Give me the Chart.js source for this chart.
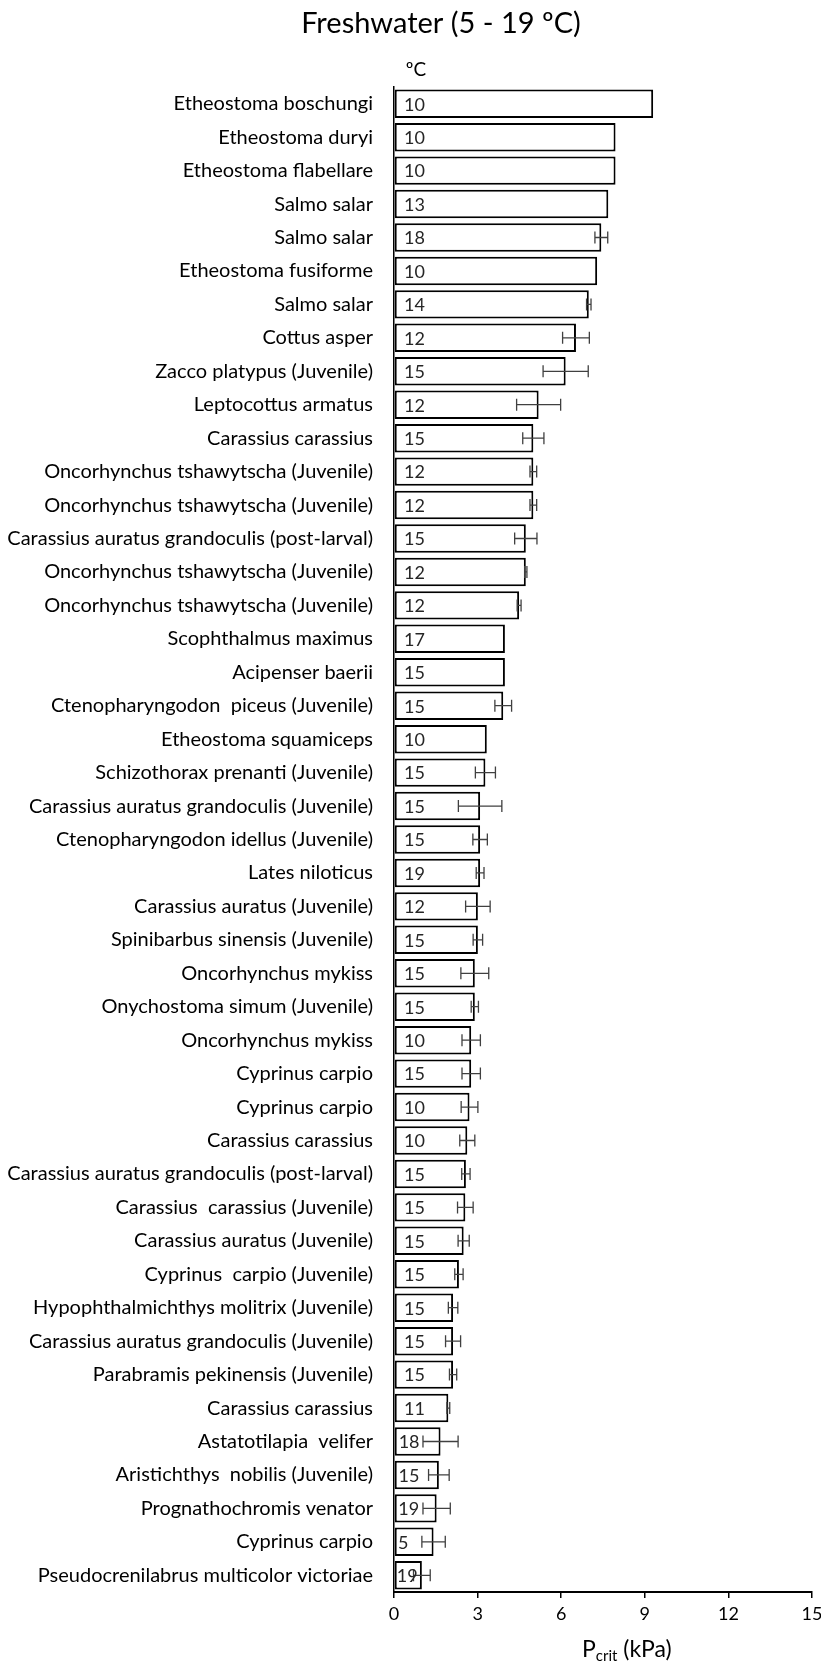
<!DOCTYPE html>
<html><head><meta charset="utf-8">
<script src="https://cdn.jsdelivr.net/npm/chart.js@4"></script>
<style>html,body{margin:0;padding:0;background:#fff}#wrap{width:821px;height:1666px;position:relative}</style>
</head><body><div id="wrap"><canvas id="c" width="821" height="1666"></canvas></div>
<script>
const chartTitle = 'Freshwater (5 - 19 ºC)';
const tempHeader = 'ºC';
const categories = [
  'Etheostoma boschungi','Etheostoma duryi','Etheostoma flabellare','Salmo salar','Salmo salar',
  'Etheostoma fusiforme','Salmo salar','Cottus asper','Zacco platypus (Juvenile)','Leptocottus armatus',
  'Carassius carassius','Oncorhynchus tshawytscha (Juvenile)','Oncorhynchus tshawytscha (Juvenile)',
  'Carassius auratus grandoculis (post-larval)','Oncorhynchus tshawytscha (Juvenile)','Oncorhynchus tshawytscha (Juvenile)',
  'Scophthalmus maximus','Acipenser baerii','Ctenopharyngodon  piceus (Juvenile)','Etheostoma squamiceps',
  'Schizothorax prenanti (Juvenile)','Carassius auratus grandoculis (Juvenile)','Ctenopharyngodon idellus (Juvenile)',
  'Lates niloticus','Carassius auratus (Juvenile)','Spinibarbus sinensis (Juvenile)','Oncorhynchus mykiss',
  'Onychostoma simum (Juvenile)','Oncorhynchus mykiss','Cyprinus carpio','Cyprinus carpio','Carassius carassius',
  'Carassius auratus grandoculis (post-larval)','Carassius  carassius (Juvenile)','Carassius auratus (Juvenile)',
  'Cyprinus  carpio (Juvenile)','Hypophthalmichthys molitrix (Juvenile)','Carassius auratus grandoculis (Juvenile)',
  'Parabramis pekinensis (Juvenile)','Carassius carassius','Astatotilapia  velifer','Aristichthys  nobilis (Juvenile)',
  'Prognathochromis venator','Cyprinus carpio','Pseudocrenilabrus multicolor victoriae'
];
const temps = [10,10,10,13,18,10,14,12,15,12,15,12,12,15,12,12,17,15,15,10,15,15,15,19,12,15,15,15,10,15,10,10,15,15,15,15,15,15,15,11,18,15,19,5,19];
const pcrit = [9.30,7.95,7.95,7.69,7.44,7.29,6.99,6.53,6.16,5.19,5.00,5.00,5.00,4.73,4.73,4.49,3.98,3.98,3.92,3.33,
  3.28,3.09,3.09,3.09,3.01,3.01,2.90,2.90,2.77,2.77,2.71,2.63,2.58,2.56,2.50,2.33,2.12,2.12,2.12,1.95,1.67,1.61,1.53,1.42,1.00];
const pcritErr = [0,0,0,0,0.23,0,0.08,0.48,0.81,0.79,0.38,0.12,0.12,0.40,0.04,0.07,0,0,0.30,0,
  0.36,0.78,0.26,0.14,0.44,0.17,0.50,0.13,0.33,0.33,0.30,0.27,0.15,0.28,0.20,0.15,0.17,0.27,0.13,0.05,0.63,0.37,0.49,0.42,0.30];
const xMin = 0, xMax = 15, xStep = 3;
const xTitleMain = 'P', xTitleSub = 'crit', xTitleRest = ' (kPa)';

const FONT = 'Lato, "Open Sans", sans-serif';

const titlePlugin = {
  id: 'titles',
  afterDraw(chart) {
    const ctx = chart.ctx;
    ctx.save();
    ctx.fillStyle = '#000';
    ctx.textBaseline = 'middle';
    ctx.textAlign = 'center';
    ctx.font = '29px ' + FONT;
    ctx.fillText(chartTitle, 441, 24);
    ctx.font = '19px ' + FONT;
    ctx.fillText(tempHeader, 416, 70);
    const big = '23px ' + FONT, small = '15px ' + FONT;
    ctx.font = big; const w1 = ctx.measureText(xTitleMain).width;
    ctx.font = small; const w2 = ctx.measureText(xTitleSub).width;
    let sx = 582;
    const cy = 1650;
    ctx.textAlign = 'left';
    ctx.font = big; ctx.fillText(xTitleMain, sx, cy); sx += w1;
    ctx.font = small; ctx.fillText(xTitleSub, sx, cy + 6); sx += w2;
    ctx.font = big; ctx.fillText(xTitleRest, sx, cy);
    ctx.restore();
  }
};

const errorBars = {
  id: 'errorBars',
  afterDatasetsDraw(chart) {
    const {ctx} = chart; const x = chart.scales.x;
    const meta = chart.getDatasetMeta(0);
    ctx.save();
    ctx.strokeStyle = '#404040'; ctx.lineWidth = 1.3;
    meta.data.forEach((bar, i) => {
      const e = pcritErr[i]; if (!e) return;
      const v = pcrit[i];
      const x1 = x.getPixelForValue(v - e), x2 = x.getPixelForValue(v + e), cy = bar.y;
      ctx.beginPath();
      ctx.moveTo(x1, cy); ctx.lineTo(x2, cy);
      ctx.moveTo(x1, cy - 6); ctx.lineTo(x1, cy + 6);
      ctx.moveTo(x2, cy - 6); ctx.lineTo(x2, cy + 6);
      ctx.stroke();
    });
    ctx.fillStyle = '#262626';
    ctx.font = '18px ' + FONT;
    ctx.textBaseline = 'middle'; ctx.textAlign = 'left';
    const x0 = x.getPixelForValue(0);
    meta.data.forEach((bar, i) => {
      const bw = bar.x - x0;
      const off = bw > 50 ? 10 : Math.max(2, bw * 0.1);
      ctx.fillText(String(temps[i]), x0 + off, bar.y + 1);
    });
    ctx.restore();
  }
};

new Chart(document.getElementById('c'), {
  type: 'bar',
  data: {
    labels: categories,
    datasets: [{
      data: pcrit,
      backgroundColor: '#ffffff',
      borderColor: '#000000',
      borderWidth: 2,
      borderSkipped: false,
      barPercentage: 0.85,
      categoryPercentage: 1
    }]
  },
  options: {
    indexAxis: 'y',
    responsive: false,
    animation: false,
    devicePixelRatio: 1,
    layout: { padding: { top: 87, right: 9, bottom: 0, left: 0 } },
    plugins: { legend: { display: false }, tooltip: { enabled: false }, title: { display: false } },
    scales: {
      x: {
        min: xMin, max: xMax,
        ticks: { stepSize: xStep, color: '#000', font: { family: FONT, size: 18 }, padding: 5, maxRotation: 0 },
        grid: { drawOnChartArea: false, drawTicks: true, tickLength: 6, color: '#000', lineWidth: 1.5 },
        border: { color: '#000', width: 2 },
        afterFit(s) { s.height = 74; s.paddingLeft = 0; s.paddingRight = 0; }
      },
      y: {
        ticks: { color: '#000', font: { family: FONT, size: 20 }, padding: 21, autoSkip: false },
        grid: { drawOnChartArea: false, drawTicks: false },
        border: { color: '#000', width: 1.5 },
        afterFit(s) { s.width = 394; s.paddingTop = 0; s.paddingBottom = 0; }
      }
    }
  },
  plugins: [errorBars, titlePlugin]
});
</script></body></html>
